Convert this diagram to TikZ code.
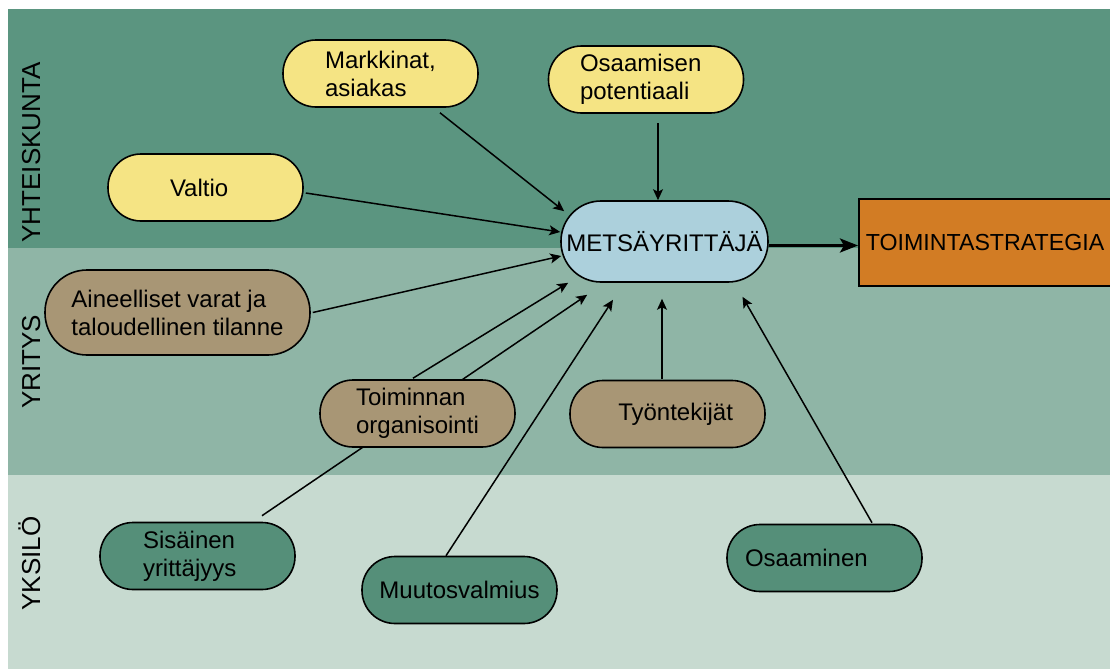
\documentclass[tikz,border=0pt]{standalone}
\usepackage{fontspec}
\setmainfont{Liberation Sans}
\usetikzlibrary{arrows.meta,calc}

\pgfdeclarelayer{bands}
\pgfdeclarelayer{links}
\pgfsetlayers{bands,links,main}

\definecolor{societyband}{HTML}{5B9580}
\definecolor{companyband}{HTML}{8FB5A6}
\definecolor{personband}{HTML}{C7DAD0}
\definecolor{yellowbox}{HTML}{F5E484}
\definecolor{brownbox}{HTML}{A89675}
\definecolor{greenbox}{HTML}{558F79}
\definecolor{centerbox}{HTML}{ACD0DC}
\definecolor{orangebox}{HTML}{D27C24}

\begin{document}
\begin{tikzpicture}[x=0.5pt,y=-0.5pt,
  pill/.style={draw=black, line width=0.8pt, rounded corners=16.5pt,
    minimum width=97.5pt, minimum height=33.5pt, inner xsep=2pt, inner ysep=1pt,
    align=left, font=\fontsize{12}{14}\selectfont},
  society/.style={pill, fill=yellowbox},
  company/.style={pill, fill=brownbox},
  person/.style={pill, fill=greenbox},
  lane/.style={rotate=90, anchor=base, font=\fontsize{13}{15}\selectfont},
  link/.style={line width=0.75pt, -{Stealth[length=5.5pt,width=5pt,inset=1.3pt]}},
  mainlink/.style={line width=1.5pt, -{Stealth[length=9pt,width=7pt,inset=2pt]}}
]
\useasboundingbox (0,0) rectangle (1110,670);
\clip (0,0) rectangle (1110,670);

% three horizontal levels
\begin{pgfonlayer}{bands}
  \fill[societyband] (8,9) rectangle (1110,248);
  \fill[companyband] (8,248) rectangle (1110,475);
  \fill[personband] (8,475) rectangle (1110,669);
\end{pgfonlayer}

\node[lane] (lane-society) at (40,152.5) {YHTEISKUNTA};
\node[lane] (lane-company) at (40,362) {YRITYS};
\node[lane] (lane-person) at (40,563.5) {YKSILÖ};

% society level
\node[society] (markets) at (380.5,73.5) {Markkinat,\\asiakas};
\node[society, text width=66pt] (potential) at (646,79.5) {Osaamisen\\potentiaali};
\node[society, text width=35.5pt] (state) at (205.5,187.5) {Valtio};

% central actor and outcome
\node[pill, fill=centerbox, minimum width=103.5pt, minimum height=40.5pt,
  rounded corners=20pt, align=center] (entrepreneur) at (664.5,241.5) {METSÄYRITTÄJÄ};
\node[draw=black, line width=0.8pt, fill=orangebox, anchor=west,
  minimum width=141pt, minimum height=43.5pt, text width=134pt, inner xsep=3.5pt,
  align=left, font=\fontsize{11.6}{14}\selectfont] (strategy) at (858,242.5) {TOIMINTASTRATEGIA};

% company level
\node[company, minimum width=132.5pt, minimum height=42.5pt, rounded corners=21pt]
  (assets) at (177.5,312.5) {Aineelliset varat ja\\taloudellinen tilanne};
\node[company] (organising) at (417.5,413.5) {Toiminnan\\organisointi};
\node[company, text width=65.5pt, align=right] (staff) at (667.5,414) {Työntekijät};

% individual level
\node[person, text width=54.5pt] (intrapreneurship) at (197.5,556) {Sisäinen\\yrittäjyys};
\node[person] (readiness) at (459.5,590) {Muutosvalmius};
\node[person, text width=79.5pt] (competence) at (824.5,558) {Osaaminen};

% influences on the entrepreneur
\begin{pgfonlayer}{links}
  \draw[link] ($(markets.south)+(59.5,5)$) -- ($(entrepreneur.north west)+(4,11)$);
  \draw[link] ($(potential.south)+(12,9.5)$) -- ($(entrepreneur.north)+(-6.5,0)$);
  \draw[link] ($(state.east)+(2,5.5)$) -- ($(entrepreneur.west)+(0,-9.5)$);
  \draw[link] ($(assets.east)+(2,0)$) -- ($(entrepreneur.west)+(1,14.5)$);
  \draw[link] ($(organising.north)+(-4.5,-1)$) -- ($(entrepreneur.south west)+(8,0)$);
  \draw[link] ($(intrapreneurship.north)+(64.5,-6)$) -- ($(entrepreneur.south west)+(27,12)$);
  \draw[link] ($(readiness.north)+(-13.5,0)$) -- ($(entrepreneur.south)+(-51.5,17)$);
  \draw[link] ($(staff.north)+(-5.5,-1)$) -- ($(entrepreneur.south)+(-2.5,16)$);
  \draw[link] ($(competence.north)+(47.5,-1)$) -- ($(entrepreneur.south)+(78,14)$);
  \coordinate (tail) at ($(entrepreneur.east)+(0,4)$);
  \draw[mainlink] (tail) -- (tail -| strategy.west);
\end{pgfonlayer}
\end{tikzpicture}
\end{document}
